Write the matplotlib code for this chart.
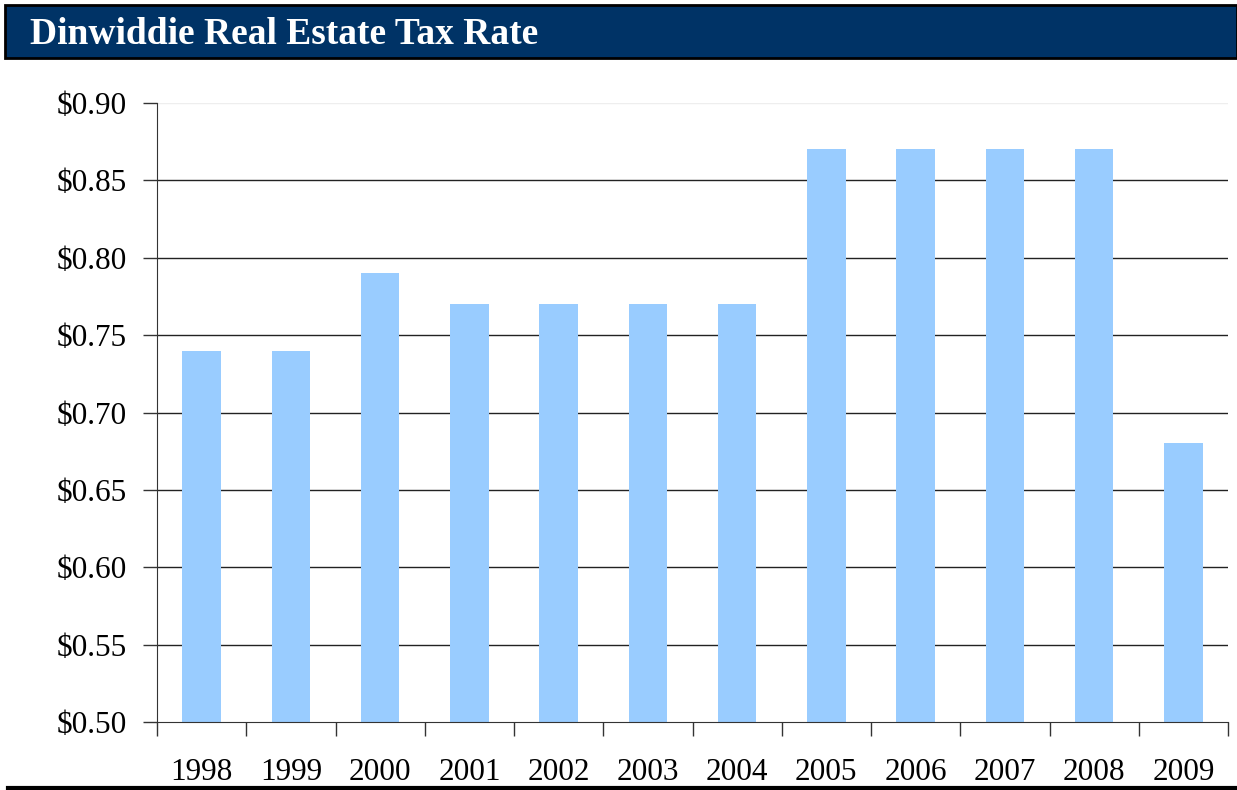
import matplotlib.pyplot as plt
from matplotlib.patches import Rectangle
from matplotlib.lines import Line2D

years = ["1998", "1999", "2000", "2001", "2002", "2003", "2004", "2005", "2006", "2007", "2008", "2009"]
rates = [0.74, 0.74, 0.79, 0.77, 0.77, 0.77, 0.77, 0.87, 0.87, 0.87, 0.87, 0.68]
yticks = [0.50, 0.55, 0.60, 0.65, 0.70, 0.75, 0.80, 0.85, 0.90]
title = "Dinwiddie Real Estate Tax Rate"

W, H = 1237, 790
fig = plt.figure(figsize=(W / 100, H / 100), dpi=100)
plt.rcParams['font.family'] = ['Liberation Serif', 'DejaVu Serif']

# title bar
fig.patches.append(Rectangle((5 / W, 1 - 58 / H), (W - 5) / W, 53 / H, transform=fig.transFigure,
                             facecolor='#003366', edgecolor='black', linewidth=2, zorder=0))
fig.text(30 / W, 1 - 35 / H, title, color='white', fontsize=27, fontweight='bold',
         va='center', ha='left')
# bottom rule
fig.lines.append(Line2D([8 / W, 1.0], [1 - 788 / H, 1 - 788 / H], transform=fig.transFigure,
                        color='black', linewidth=3))

ax = fig.add_axes([157 / W, 1 - 722 / H, (1228 - 157) / W, (722 - 103) / H])
x = list(range(len(years)))
ax.bar(x, rates, width=0.43, color='#99CCFF', zorder=2)
ax.set_xlim(-0.5, len(years) - 0.5)
ax.set_ylim(0.50, 0.90)
ax.set_yticks(yticks)
ax.set_yticklabels([f"${v:.2f}" for v in yticks])
for v in yticks[1:-1]:
    ax.axhline(v, color='#222222', linewidth=1, zorder=1)
ax.axhline(0.90, color='#eeeeee', linewidth=1, zorder=1)

ax.set_xticks([i - 0.5 for i in range(len(years) + 1)])
ax.set_xticklabels([])
ax.set_xticks(x, minor=True)
ax.set_xticklabels(years, minor=True)
ax.tick_params(axis='x', which='major', length=10, width=1, color='#333333', direction='out')
ax.tick_params(axis='x', which='minor', length=0, pad=26, labelsize=22.5)
ax.tick_params(axis='y', length=10, width=1, color='#333333', labelsize=22.5, pad=12)

for s in ['top', 'right']:
    ax.spines[s].set_visible(False)
ax.spines['left'].set_color('#333333')
ax.spines['bottom'].set_color('#333333')

fig.savefig('out.png', dpi=100)
